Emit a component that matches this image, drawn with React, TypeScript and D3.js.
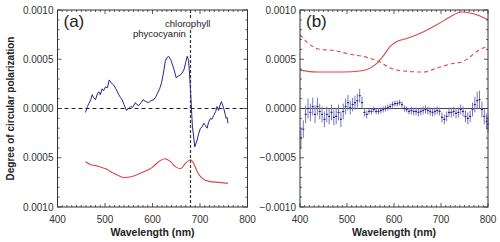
import React from "react";
import * as d3 from "d3";

// panel (a): single spectrum, blue = circular polarization, red = reflectance-like curve
const blueAWl = [459, 463, 466, 470, 473, 476, 480, 484, 487, 490, 494, 497, 501, 505, 509, 513, 518, 523, 529, 533, 536, 540, 545, 550, 554, 558, 564, 567, 571, 576, 580, 586, 592, 597, 603, 607, 610, 615, 619, 623, 627, 631, 634, 638, 641, 645, 650, 654, 659, 662, 666, 670, 673, 676, 678, 680, 682, 684, 687, 689, 692, 694, 697, 701, 704, 708, 711, 715, 718, 722, 725, 729, 733, 736, 739, 742, 745, 748, 750, 753, 755, 757, 759];
const blueAVal = [-0.00004, 0.00002, 0.00005, 0.00009, 0.00014, 0.00011, 0.00009, 0.00015, 0.00017, 0.00014, 0.0002, 0.00018, 0.00022, 0.00021, 0.00029, 0.00026, 0.00024, 0.0002, 0.00014, 0.00011, 0.00009, 0.00004, -0.00002, 0.0, 0.00002, 0.00001, 0.00006, 0.00004, 0.00003, 0.00006, 0.00009, 0.00007, 0.00006, 0.00008, 0.00009, 0.00012, 0.00015, 0.0002, 0.00026, 0.00036, 0.00048, 0.00052, 0.00053, 0.0005, 0.00046, 0.0004, 0.00031, 0.00033, 0.00034, 0.00036, 0.00039, 0.00047, 0.00053, 0.00049, 0.00035, 0.00019, 0.0, -0.00018, -0.0003, -0.00039, -0.00035, -0.00032, -0.00026, -0.0002, -0.00019, -0.00015, -0.00017, -0.0002, -0.00014, -0.0001, -0.00011, -0.00007, -0.00003, 0.00002, -0.00002, 0.00003, 0.00007, 0.00003, 0.0, -0.00006, -0.0001, -0.00009, -0.00015];

const redAWl = [459, 470, 480, 494, 505, 515, 528, 540, 557, 578, 599, 613, 626, 638, 648, 659, 669, 680, 687, 694, 705, 719, 740, 759];
const redAVal = [-0.00054, -0.00057, -0.00058, -0.0006, -0.00062, -0.00065, -0.00068, -0.0007, -0.00069, -0.00065, -0.0006, -0.00054, -0.00051, -0.00054, -0.00059, -0.00061, -0.00056, -0.00052, -0.00056, -0.00064, -0.00071, -0.00074, -0.00075, -0.00076];

// panel (b): two red curves and the averaged polarization with error bars
const redBWl = [400, 435, 492, 528, 549, 564, 578, 592, 606, 627, 663, 691, 719, 744, 762, 783, 800];
const redBVal = [0.00039, 0.00037, 0.00037, 0.00038, 0.00041, 0.00046, 0.00054, 0.00063, 0.00068, 0.00071, 0.00078, 0.00085, 0.00093, 0.00098, 0.00097, 0.00094, 0.0009];
const redDashWl = [400, 418, 443, 471, 507, 542, 571, 592, 621, 663, 691, 719, 748, 766, 783, 800];
const redDashVal = [0.00075, 0.00066, 0.0006, 0.00059, 0.00055, 0.00052, 0.00047, 0.00041, 0.00038, 0.00037, 0.00041, 0.00045, 0.00048, 0.00054, 0.0006, 0.00063];

const blueBWl = [402, 407, 412, 417, 422, 427, 432, 437, 442, 447, 452, 457, 462, 467, 472, 477, 482, 487, 492, 497, 502, 507, 512, 517, 522, 527, 532, 537, 542, 547, 552, 557, 562, 567, 572, 577, 582, 587, 592, 597, 602, 607, 612, 617, 622, 627, 632, 637, 642, 647, 652, 657, 662, 667, 672, 677, 682, 687, 692, 697, 702, 707, 712, 717, 722, 727, 732, 737, 742, 747, 752, 757, 762, 767, 772, 777, 782, 787, 792, 797, 800];
const blueBVal = [-0.0003, -0.00021, -0.00006, 0.0, -0.00004, 0.00002, -0.00006, 0.00002, -0.00003, -0.00006, -0.00011, -0.00006, -0.00008, -0.00004, -0.00009, -0.00008, -0.00004, -0.00011, -0.00003, 0.00002, 0.00006, 0.00001, 0.00004, 0.00006, 0.00008, 0.00013, 0.00006, -0.00004, -0.00006, -0.00003, -0.00003, -0.00001, -0.00003, -0.00003, -0.00002, -0.00001, 0.0, 0.00001, 0.00002, 0.00004, 0.00005, 0.00005, 0.00006, 0.00004, 0.0, -0.00001, -0.00003, -0.00002, -0.00003, -0.00003, -0.00004, -0.00003, -0.00002, -0.00001, -0.00002, -0.00003, -0.00004, -0.00003, -0.00002, -0.00003, -0.00009, -0.00011, -0.00008, -0.00004, -0.00004, -0.00003, -0.00005, -0.00004, -0.00001, -0.00003, -0.00008, -0.0001, -0.00008, -0.00001, 0.00004, 0.00008, 0.00009, -0.00001, -0.00008, -0.00013, -0.00016];
const blueBErr = [0.0001, 0.00009, 0.00009, 0.0001, 0.00009, 0.00009, 0.00009, 0.00009, 0.00008, 0.00008, 0.00008, 0.00008, 0.00008, 0.00008, 0.00008, 0.00008, 0.00008, 0.00008, 0.00008, 0.00008, 0.00008, 0.00007, 0.00007, 0.00007, 0.00007, 0.00007, 0.00006, 0.00004, 0.00004, 0.00003, 0.00003, 0.00003, 0.00003, 0.00003, 0.00003, 0.00003, 0.00003, 0.00003, 0.00003, 0.00003, 0.00003, 0.00003, 0.00003, 0.00003, 0.00003, 0.00003, 0.00003, 0.00004, 0.00004, 0.00004, 0.00004, 0.00004, 0.00004, 0.00004, 0.00004, 0.00004, 0.00004, 0.00004, 0.00004, 0.00004, 0.00005, 0.00005, 0.00005, 0.00005, 0.00005, 0.00005, 0.00005, 0.00005, 0.00005, 0.00005, 0.00006, 0.00006, 0.00006, 0.00007, 0.00008, 0.00009, 0.00009, 0.00008, 0.00008, 0.00008, 0.00008];

const xTicks = [400, 500, 600, 700, 800];
const yTicks = [0.001, 0.0005, 0, -0.0005, -0.001];
const yLabelsA = ["0.0010", "0.0005", "0.0000", "0.0005", "0.0010"];
const yLabelsB = ["0.0010", "0.0005", "0.0000", "\u22120.0005", "\u22120.0010"];
const markerWl = 680;

const RED = "#d9474b";
const NAVY = "#25258a";
const AXIS = "#333";
const FONT = "Liberation Sans, Arial, sans-serif";

const top = 10;
const bottom = 207;

function Frame({ x, y, yLabels, tag }: any) {
  const [x0, x1] = x.range();
  const minorX = d3.range(400, 801, 10);
  const minorY = d3.range(-0.001, 0.00101, 0.0001);
  return (
    <g>
      {minorX.map((v) => {
        const major = v % 100 === 0;
        const l = major ? 4 : 2;
        return (
          <g key={"mx" + v} stroke={AXIS} strokeWidth={0.8}>
            <line x1={x(v)} x2={x(v)} y1={bottom} y2={bottom - l} />
            <line x1={x(v)} x2={x(v)} y1={top} y2={top + l} />
          </g>
        );
      })}
      {minorY.map((v, i) => {
        const major = i % 5 === 0;
        const l = major ? 4 : 2;
        return (
          <g key={"my" + i} stroke={AXIS} strokeWidth={0.8}>
            <line x1={x0} x2={x0 + l} y1={y(v)} y2={y(v)} />
            <line x1={x1} x2={x1 - l} y1={y(v)} y2={y(v)} />
          </g>
        );
      })}
      <rect x={x0} y={top} width={x1 - x0} height={bottom - top} fill="none" stroke={AXIS} strokeWidth={1} />
      {xTicks.map((v) => (
        <text key={"xt" + v} x={x(v)} y={223} textAnchor="middle" fontSize={10} fill={AXIS} fontFamily={FONT}>
          {v}
        </text>
      ))}
      {yTicks.map((v, i) => (
        <text key={"yt" + i} x={x0 - 4} y={y(v) + 3.5} textAnchor="end" fontSize={10} fill={AXIS} fontFamily={FONT}>
          {yLabels[i]}
        </text>
      ))}
      <text x={(x0 + x1) / 2} y={236} textAnchor="middle" fontSize={10.5} fontWeight="bold" fill="#222" fontFamily={FONT}>
        Wavelength (nm)
      </text>
      <text x={x0 + 6} y={top + 17} fontSize={17} fill="#222" fontFamily={FONT}>
        {tag}
      </text>
    </g>
  );
}

export default function App() {
  const xa = d3.scaleLinear().domain([400, 800]).range([57.5, 247.5]);
  const xb = d3.scaleLinear().domain([400, 800]).range([300, 488]);
  const y = d3.scaleLinear().domain([-0.001, 0.001]).range([bottom, top]);

  const lineA = d3
    .line<number>()
    .x((d, i) => xa(blueAWl[i]))
    .y((d) => y(d));
  const redA = d3
    .line<number>()
    .x((d, i) => xa(redAWl[i]))
    .y((d) => y(d))
    .curve(d3.curveMonotoneX);
  const redB = d3
    .line<number>()
    .x((d, i) => xb(redBWl[i]))
    .y((d) => y(d))
    .curve(d3.curveMonotoneX);
  const redDash = d3
    .line<number>()
    .x((d, i) => xb(redDashWl[i]))
    .y((d) => y(d))
    .curve(d3.curveMonotoneX);

  return (
    <svg width={500} height={242} style={{ position: "absolute", left: 0, top: 0, background: "#fff" }}>
      {/* panel (a) */}
      <line x1={xa(400)} x2={xa(800)} y1={y(0)} y2={y(0)} stroke="#222" strokeWidth={1} strokeDasharray="4,3" />
      <line x1={xa(markerWl)} x2={xa(markerWl)} y1={top} y2={bottom} stroke="#333" strokeWidth={1.2} strokeDasharray="3,2" />
      <path d={redA(redAVal) || ""} fill="none" stroke={RED} strokeWidth={1.1} />
      <path d={lineA(blueAVal) || ""} fill="none" stroke={NAVY} strokeWidth={1} />
      <rect x={164} y={19} width={50} height={10} fill="#fff" />
      <rect x={132} y={29} width={54} height={10} fill="#fff" />
      <text x={165} y={27} fontSize={9.5} fill="#222" fontFamily={FONT}>chlorophyll</text>
      <text x={133} y={37} fontSize={9.5} fill="#222" fontFamily={FONT}>phycocyanin</text>
      <Frame x={xa} y={y} yLabels={yLabelsA} tag="(a)" />

      {/* panel (b) */}
      <line x1={xb(400)} x2={xb(800)} y1={y(0)} y2={y(0)} stroke="#444" strokeWidth={1} />
      <path d={redB(redBVal) || ""} fill="none" stroke={RED} strokeWidth={1.1} />
      <path d={redDash(redDashVal) || ""} fill="none" stroke={RED} strokeWidth={1.1} strokeDasharray="4,3" />
      {blueBVal.map((v, i) => {
        const cx = xb(blueBWl[i]);
        return (
          <g key={"eb" + i}>
            <line x1={cx} x2={cx} y1={y(v + blueBErr[i])} y2={y(v - blueBErr[i])} stroke="#7474bd" strokeWidth={1} />
            <line x1={cx - 1} x2={cx + 1} y1={y(v)} y2={y(v)} stroke={NAVY} strokeWidth={1.2} />
          </g>
        );
      })}
      <Frame x={xb} y={y} yLabels={yLabelsB} tag="(b)" />

      <text
        transform={`translate(14,${(top + bottom) / 2}) rotate(-90)`}
        textAnchor="middle"
        fontSize={10}
        fontWeight="bold"
        fill="#222"
        fontFamily={FONT}
      >
        Degree of circular polarization
      </text>
    </svg>
  );
}
